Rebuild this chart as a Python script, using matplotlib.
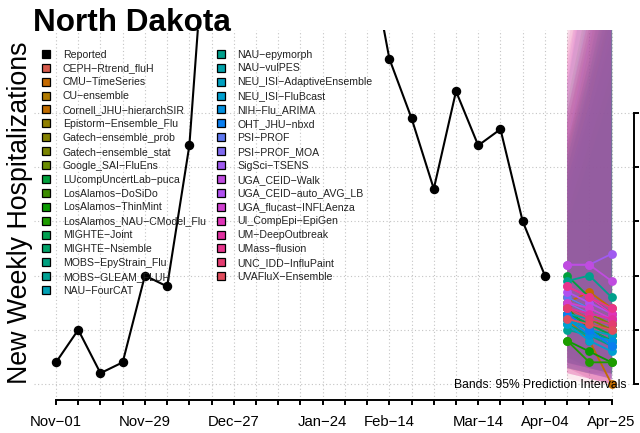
import numpy as np
import matplotlib
matplotlib.use('Agg')
import matplotlib.pyplot as plt
from matplotlib.lines import Line2D

plt.rcParams['font.family'] = ['Liberation Sans', 'DejaVu Sans']

# ---------------- data ----------------
week_labels = ['Nov−01', 'Nov−08', 'Nov−15', 'Nov−22', 'Nov−29', 'Dec−06', 'Dec−13',
               'Dec−20', 'Dec−27', 'Jan−03', 'Jan−10', 'Jan−17', 'Jan−24', 'Jan−31',
               'Feb−07', 'Feb−14', 'Feb−21', 'Feb−28', 'Mar−07', 'Mar−14', 'Mar−21',
               'Mar−28', 'Apr−04', 'Apr−11', 'Apr−18', 'Apr−25']
shown_labels = ['Nov−01', 'Nov−29', 'Dec−27', 'Jan−24', 'Feb−14', 'Mar−14', 'Apr−04', 'Apr−25']

reported = [4, 10, 2, 4, 20, 18, 44, 100, 150, 200, 170, 140, 120, 100, 82,
            60, 49, 36, 54, 44, 47, 30, 20]

forecast_weeks = ['Apr−11', 'Apr−18', 'Apr−25']

models = ['CEPH−Rtrend_fluH', 'CMU−TimeSeries', 'CU−ensemble', 'Cornell_JHU−hierarchSIR',
          'Epistorm−Ensemble_Flu', 'Gatech−ensemble_prob', 'Gatech−ensemble_stat',
          'Google_SAI−FluEns', 'LUcompUncertLab−puca', 'LosAlamos−DoSiDo',
          'LosAlamos−ThinMint', 'LosAlamos_NAU−CModel_Flu', 'MIGHTE−Joint',
          'MIGHTE−Nsemble', 'MOBS−EpyStrain_Flu', 'MOBS−GLEAM_FLUH', 'NAU−FourCAT',
          'NAU−epymorph', 'NAU−vulPES', 'NEU_ISI−AdaptiveEnsemble', 'NEU_ISI−FluBcast',
          'NIH−Flu_ARIMA', 'OHT_JHU−nbxd', 'PSI−PROF', 'PSI−PROF_MOA', 'SigSci−TSENS',
          'UGA_CEID−Walk', 'UGA_CEID−auto_AVG_LB', 'UGA_flucast−INFLAenza',
          'UI_CompEpi−EpiGen', 'UM−DeepOutbreak', 'UMass−flusion', 'UNC_IDD−InfluPaint',
          'UVAFluX−Ensemble']

model_colors = ['#D65A4C', '#C46A00', '#B07A00', '#C06C00', '#8F7F00', '#848200', '#7A8400',
                '#6A8C00', '#00A03C', '#3C8C00', '#0A9A00', '#1E9C00', '#00A050', '#00A268',
                '#00A080', '#00A294', '#00A0B4', '#00A08C', '#00A2AA', '#00A0C0', '#00A0D0',
                '#0090E0', '#0A7EF0', '#5E78F0', '#806AF0', '#A05AF0', '#C04CE0', '#B050F0',
                '#D040D0', '#E034B8', '#E030A0', '#E8348C', '#E43C70', '#E04C5C']

median = [[14, 12, 11], [15, 17, 14], [13, 11, 9], [12, 8, 0], [16, 14, 12], [15, 13, 11],
          [14, 12, 10], [13, 11, 10], [20, 16, 13], [14, 10, 8], [8, 6, 4], [8, 4, 4],
          [13, 11, 9], [12, 10, 8], [11, 9, 7], [10, 9, 8], [12, 10, 7], [19, 20, 16],
          [13, 12, 11], [12, 10, 9], [11, 8, 6], [12, 9, 8], [13, 10, 7], [16, 14, 12],
          [15, 13, 12], [22, 22, 24], [22, 22, 19], [17, 15, 13], [15, 14, 12],
          [18, 16, 13], [14, 13, 12], [18, 16, 14], [14, 12, 11], [12, 11, 10]]

lower = [[4, 3, 2], [5, 3, 2], [4, 3, 2], [3, 2, 1], [6, 4, 3], [5, 4, 3], [5, 3, 2],
         [4, 3, 2], [7, 5, 3], [4, 3, 2], [3, 2, 2], [3, 2, 2], [5, 3, 2], [4, 3, 2],
         [4, 3, 2], [4, 3, 2], [4, 3, 2], [6, 4, 3], [5, 3, 2], [4, 3, 2], [3, 2, 1],
         [3, 2, 1], [3, 2, 1], [3, 2, 1], [3, 2, 1], [4, 2, 1], [3, 1, 0], [3, 2, 1],
         [2, 1, 0], [2, 1, 0], [2, 1, 0], [3, 1, 0], [1, 0, 0], [2, 1, 0]]

upper = [[40, 55, 70], [45, 60, 80], [38, 50, 66], [35, 48, 60], [48, 66, 90], [44, 58, 74],
         [42, 56, 72], [40, 54, 70], [52, 72, 95], [44, 62, 84], [30, 42, 55], [32, 45, 58],
         [42, 58, 76], [40, 56, 74], [38, 52, 70], [36, 50, 64], [42, 60, 82], [55, 78, 100],
         [44, 60, 78], [42, 58, 76], [40, 56, 72], [38, 52, 68], [45, 64, 88], [50, 70, 92],
         [48, 66, 86], [58, 82, 110], [56, 80, 105], [50, 68, 88], [48, 64, 84],
         [60, 80, 102], [64, 86, 110], [62, 84, 106], [66, 88, 112], [50, 68, 90]]

y_ticks = [0, 10, 20, 30, 40, 50]

# ---------------- figure ----------------
W, H = 640, 433
fig = plt.figure(figsize=(W / 100, H / 100), dpi=100)
ax_left, ax_right, ax_top, ax_bot = 33.8, 633.8, 30, 400
ax = fig.add_axes([ax_left / W, 1 - ax_bot / H, (ax_right - ax_left) / W, (ax_bot - ax_top) / H])

x_all = np.arange(len(week_labels))
x_rep = x_all[:len(reported)]
x_fc = np.array([week_labels.index(w) for w in forecast_weeks])

ax.set_xlim(-1, len(week_labels))
ax.set_ylim(-2.95, 65.3)

# grid
for xv in x_all:
    ax.axvline(xv, color='#C4C4C4', lw=0.8, ls=(0, (1, 2.2)), zorder=0)
for yv in y_ticks:
    ax.axhline(yv, color='#C4C4C4', lw=0.8, ls=(0, (1, 2.2)), zorder=0)

# bands
for i in range(len(models)):
    ax.fill_between(x_fc, lower[i], upper[i], color=model_colors[i], alpha=0.1, lw=0, zorder=1)

# forecast medians
for i in range(len(models)):
    ax.plot(x_fc, median[i], '-o', color=model_colors[i], lw=1.3, ms=5.3, zorder=2)

# reported
ax.plot(x_rep, reported, '-o', color='black', lw=1.5, ms=5.8, zorder=3)

# axes styling
for s in ['left', 'top']:
    ax.spines[s].set_visible(False)
ax.spines['bottom'].set_bounds(0, len(week_labels) - 1)
ax.spines['right'].set_bounds(y_ticks[0], y_ticks[-1])
ax.spines['bottom'].set_linewidth(1.4)
ax.spines['right'].set_linewidth(1.4)

ax.set_xticks(x_all)
ax.set_xticklabels([w if w in shown_labels else '' for w in week_labels], fontsize=10.7)
ax.tick_params(axis='x', direction='out', length=3.5, width=1.4, pad=7)
ax.yaxis.tick_right()
ax.set_yticks(y_ticks)
ax.tick_params(axis='y', direction='out', length=3.5, width=1.4, labelright=False, labelleft=False)

# text
fig.text(33 / W, 1 - 31 / H, 'North Dakota', fontsize=22.7, fontweight='bold', ha='left', va='baseline')
fig.text(27.5 / W, 1 - 212.5 / H, 'New Weekly Hospitalizations', fontsize=19.3, rotation=90,
         rotation_mode='anchor', ha='center', va='baseline')
fig.text(627 / W, 1 - 388 / H, 'Bands: 95% Prediction Intervals', fontsize=8.7, ha='right', va='baseline')

# legend
handles = [Line2D([], [], marker='s', ls='none', markersize=5.3, markerfacecolor='black',
                  markeredgecolor='black', markeredgewidth=0.9)]
for c in model_colors:
    handles.append(Line2D([], [], marker='s', ls='none', markersize=5.3, markerfacecolor=c,
                          markeredgecolor='black', markeredgewidth=0.9))
labels = ['Reported'] + models
leg = ax.legend(handles, labels, ncol=2, loc='upper left',
                bbox_to_anchor=(41.2 / W, 1 - 49.5 / H), bbox_transform=fig.transFigure,
                frameon=False, fontsize=7.6, handlelength=1.0, handletextpad=1.06,
                columnspacing=0.92, labelspacing=0.37, borderpad=0, borderaxespad=0)
for t in leg.get_texts():
    t.set_color('#222222')

fig.savefig('out.png', dpi=100)
